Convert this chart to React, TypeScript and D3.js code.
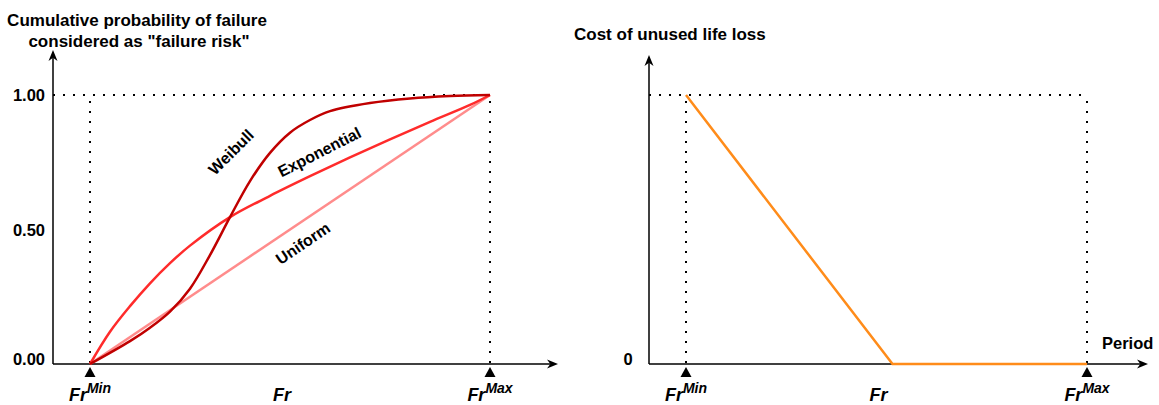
import React from "react";
import * as d3 from "d3";

// ---- Data (normalized: Fr from FrMin=0 to FrMax=1) ----
const weibullT = [0, 0.1, 0.15, 0.2, 0.25, 0.3, 0.35, 0.4, 0.45, 0.5, 0.55, 0.6, 0.7, 0.8, 0.9, 1];
const weibullV = [0, 0.085, 0.135, 0.195, 0.28, 0.405, 0.546, 0.68, 0.785, 0.86, 0.907, 0.94, 0.97, 0.987, 0.996, 1];
const expT = [0, 0.05, 0.1, 0.15, 0.2, 0.25, 0.35, 0.45, 0.55, 0.65, 0.75, 0.85, 0.95, 1];
const expV = [0, 0.12, 0.215, 0.3, 0.375, 0.44, 0.546, 0.625, 0.698, 0.768, 0.835, 0.9, 0.963, 1];
const uniformT = [0, 1];
const uniformV = [0, 1];
const costT = [0, 0.515, 1];
const costV = [1, 0, 0];
const yTicks = [0, 0.5, 1];
const yTickLabels = ["0.00", "0.50", "1.00"];
const frMarks = [0, 1];
const frLabelPos = 0.49;

const W = 1159;
const H = 405;
const FONT = "'Liberation Sans', Arial, sans-serif";

type Pt = [number, number];

function Arrow({ x1, y1, x2, y2 }: { x1: number; y1: number; x2: number; y2: number }) {
  const ang = Math.atan2(y2 - y1, x2 - x1);
  const L = 11, Wd = 4.5;
  const bx = x2 - L * Math.cos(ang), by = y2 - L * Math.sin(ang);
  const px = -Math.sin(ang) * Wd, py = Math.cos(ang) * Wd;
  const inner = 0.7;
  const ix = x2 - L * inner * Math.cos(ang), iy = y2 - L * inner * Math.sin(ang);
  return (
    <g>
      <line x1={x1} y1={y1} x2={ix} y2={iy} stroke="#000" strokeWidth={1.5} />
      <path d={`M${x2},${y2} L${bx + px},${by + py} L${ix},${iy} L${bx - px},${by - py} Z`} fill="#000" />
    </g>
  );
}

function FrLabel({ x, sup }: { x: number; sup?: string }) {
  return (
    <text x={x} y={401} textAnchor="middle" fontFamily={FONT} fontWeight="bold" fontStyle="italic" fontSize={18}>
      Fr
      {sup ? (
        <tspan fontSize={14} dy={-8}>
          {sup}
        </tspan>
      ) : null}
    </text>
  );
}

function Triangle({ x, y }: { x: number; y: number }) {
  return <path d={`M${x},${y} L${x - 5.5},${y + 10} L${x + 5.5},${y + 10} Z`} fill="#000" />;
}

export default function App() {
  const xL = d3.scaleLinear().domain([0, 1]).range([90, 490]);
  const yL = d3.scaleLinear().domain([0, 1]).range([364, 95]);
  const xR = d3.scaleLinear().domain([0, 1]).range([686, 1087]);
  const yR = d3.scaleLinear().domain([0, 1]).range([364, 95]);

  const lineL = d3
    .line<Pt>()
    .x((d) => xL(d[0]))
    .y((d) => yL(d[1]))
    .curve(d3.curveCatmullRom.alpha(0.5));
  const lineLin = d3
    .line<Pt>()
    .x((d) => xL(d[0]))
    .y((d) => yL(d[1]));
  const lineR = d3
    .line<Pt>()
    .x((d) => xR(d[0]))
    .y((d) => yR(d[1]));

  const zip = (a: number[], b: number[]): Pt[] => a.map((t, i) => [t, b[i]]);

  const dot = { stroke: "#000", strokeWidth: 2, strokeDasharray: "2 8" };

  return (
    <svg width={W} height={H} style={{ position: "absolute", left: 0, top: 0, background: "#fff" }}>
      {/* ---------- LEFT PANEL ---------- */}
      <text fontFamily={FONT} fontWeight="bold" fontSize={17} textAnchor="middle">
        <tspan x={137} y={26}>Cumulative probability of failure</tspan>
        <tspan x={139} y={47}>considered as "failure risk"</tspan>
      </text>

      {/* dotted guides */}
      <line x1={53} y1={yL(1)} x2={xL(1)} y2={yL(1)} {...dot} />
      {frMarks.map((m) => (
        <line key={"lv" + m} x1={xL(m)} y1={yL(1) + 6} x2={xL(m)} y2={yL(0)} {...dot} />
      ))}

      {/* axes */}
      <Arrow x1={53} y1={yL(0)} x2={53} y2={50} />
      <Arrow x1={53} y1={yL(0)} x2={558} y2={yL(0)} />

      {yTicks.map((t, i) => (
        <text
          key={"yt" + t}
          x={45}
          y={yL(t) + (t === 0 ? 1 : 6)}
          textAnchor="end"
          fontFamily={FONT}
          fontWeight="bold"
          fontSize={16.5}
        >
          {yTickLabels[i]}
        </text>
      ))}

      {/* curves */}
      <path d={lineLin(zip(uniformT, uniformV)) || ""} fill="none" stroke="#ff8c8c" strokeWidth={2.5} />
      <path d={lineL(zip(expT, expV)) || ""} fill="none" stroke="#ff2b2b" strokeWidth={2.5} />
      <path d={lineL(zip(weibullT, weibullV)) || ""} fill="none" stroke="#c00000" strokeWidth={2.5} />

      {/* curve labels */}
      <text
        transform={`translate(${235},${156}) rotate(-45)`}
        textAnchor="middle"
        fontFamily={FONT}
        fontWeight="bold"
        fontSize={16}
      >
        Weibull
      </text>
      <text
        transform={`translate(${322},${157}) rotate(-27)`}
        textAnchor="middle"
        fontFamily={FONT}
        fontWeight="bold"
        fontSize={16}
      >
        Exponential
      </text>
      <text
        transform={`translate(${306},${248}) rotate(-34)`}
        textAnchor="middle"
        fontFamily={FONT}
        fontWeight="bold"
        fontSize={16}
      >
        Uniform
      </text>

      {frMarks.map((m) => (
        <Triangle key={"lt" + m} x={xL(m)} y={367} />
      ))}
      <FrLabel x={xL(0)} sup="Min" />
      <FrLabel x={xL(frLabelPos) - 4} />
      <FrLabel x={xL(1)} sup="Max" />

      {/* ---------- RIGHT PANEL ---------- */}
      <text x={574} y={40} fontFamily={FONT} fontWeight="bold" fontSize={17}>
        Cost of unused life loss
      </text>

      <line x1={649} y1={yR(1)} x2={xR(1)} y2={yR(1)} {...dot} />
      {frMarks.map((m) => (
        <line key={"rv" + m} x1={xR(m)} y1={yR(1) + 6} x2={xR(m)} y2={yR(0)} {...dot} />
      ))}

      <Arrow x1={649} y1={yR(0)} x2={649} y2={55} />
      <Arrow x1={649} y1={yR(0)} x2={1148} y2={yR(0)} />

      <text x={628} y={yR(0) + 1} textAnchor="middle" fontFamily={FONT} fontWeight="bold" fontSize={16.5}>
        0
      </text>
      <text x={1102} y={349} fontFamily={FONT} fontWeight="bold" fontSize={16.5}>
        Period
      </text>

      <path d={lineR(zip(costT, costV)) || ""} fill="none" stroke="#ff8c1a" strokeWidth={2.5} />

      {frMarks.map((m) => (
        <Triangle key={"rt" + m} x={xR(m)} y={367} />
      ))}
      <FrLabel x={xR(0)} sup="Min" />
      <FrLabel x={xR(frLabelPos) - 4} />
      <FrLabel x={xR(1)} sup="Max" />
    </svg>
  );
}
